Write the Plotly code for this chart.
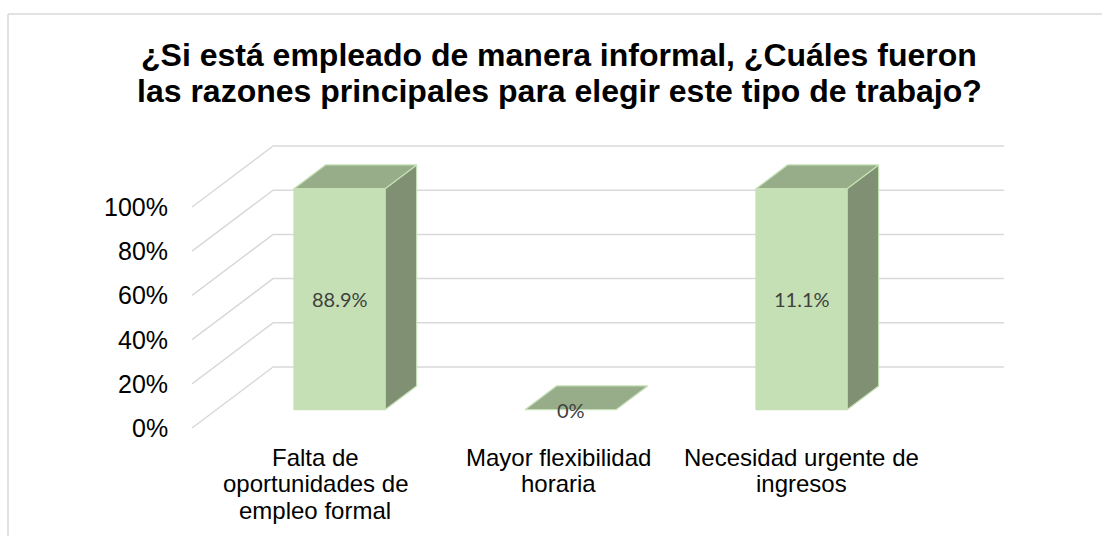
import plotly.graph_objects as go

# ---------------- data ----------------
categories = [
    ["Falta de", "oportunidades de", "empleo formal"],
    ["Mayor flexibilidad", "horaria"],
    ["Necesidad urgente de", "ingresos"],
]
bar_heights = [100, 0, 100]          # drawn heights (%) as they appear in the picture
data_labels = ["88.9%", "0%", "11.1%"]
tick_values = [0, 20, 40, 60, 80, 100]
tick_labels = ["0%", "20%", "40%", "60%", "80%", "100%"]
title_lines = [
    "¿Si está empleado de manera informal, ¿Cuáles fueron",
    "las razones principales para elegir este tipo de trabajo?",
]

# ---------------- layout / projection constants ----------------
W, H = 1102, 536
S = 231.0            # px per category unit
X_U0 = 315.2         # pixel x of category 0 on front plane
Y_V0 = 428.0         # pixel y of 0% on front plane
PX_PER_PCT = 2.21
DEPTH_DX, DEPTH_DY = 81.0, -61.0
DU = DEPTH_DX / S
DV = -DEPTH_DY / PX_PER_PCT
U_LEFT, U_RIGHT = -0.533, 2.631
D_FRONT, D_BACK = 0.30, 0.69
HALF_W = 0.197
LABEL_SPREAD = 1.053

FRONT_C = "#C5E0B4"
TOP_C = "#97AC89"
SIDE_C = "#7F9172"
EDGE_C = "#C5E0B4"
GRID_C = "#D9D9D9"


def proj(u, d, v):
    return u + d * DU, v + d * DV


def pix_to_v(py):
    return (Y_V0 - py) / PX_PER_PCT


fig = go.Figure()

# gridlines: diagonal (left floor edge) + back wall horizontals
for tv in tick_values:
    x0, y0 = proj(U_LEFT, 0, tv)
    x1, y1 = proj(U_LEFT, 1, tv)
    x2, y2 = proj(U_RIGHT, 1, tv)
    fig.add_trace(go.Scatter(x=[x0, x1, x2], y=[y0, y1, y2], mode="lines",
                             line=dict(color=GRID_C, width=1.5),
                             hoverinfo="skip", showlegend=False))


def face(pts, color):
    xs, ys = zip(*[proj(*p) for p in pts])
    xs = list(xs) + [xs[0]]
    ys = list(ys) + [ys[0]]
    fig.add_trace(go.Scatter(x=xs, y=ys, mode="lines", fill="toself",
                             fillcolor=color, line=dict(color=EDGE_C, width=1.2),
                             hoverinfo="skip", showlegend=False))


for i, h in enumerate(bar_heights):
    a, b = i - HALF_W, i + HALF_W
    if h > 0:
        face([(b, D_FRONT, 0), (b, D_BACK, 0), (b, D_BACK, h), (b, D_FRONT, h)], SIDE_C)
    face([(a, D_FRONT, h), (b, D_FRONT, h), (b, D_BACK, h), (a, D_BACK, h)], TOP_C)
    if h > 0:
        face([(a, D_FRONT, 0), (b, D_FRONT, 0), (b, D_FRONT, h), (a, D_FRONT, h)], FRONT_C)

annotations = []

# data labels
for i, (h, lab) in enumerate(zip(bar_heights, data_labels)):
    x, y = proj(i, D_FRONT, h / 2)
    annotations.append(dict(x=x, y=y, xref="x", yref="y", text=lab, showarrow=False,
                            xanchor="center", yanchor="middle",
                            font=dict(family="Lato", size=20, color="#404040")))

# value axis tick labels
for tv, tl in zip(tick_values, tick_labels):
    x, y = proj(U_LEFT, 0, tv)
    annotations.append(dict(x=x, y=y, xref="x", yref="y", text=tl, showarrow=False,
                            xanchor="right", yanchor="middle", xshift=-22,
                            font=dict(family="Liberation Sans, Arial", size=25, color="#000000")))

# category labels
for i, lines in enumerate(categories):
    for k, line in enumerate(lines):
        annotations.append(dict(x=i * LABEL_SPREAD, y=pix_to_v(457 + 26.5 * k), xref="x", yref="y",
                                text=line, showarrow=False, xanchor="center", yanchor="middle",
                                font=dict(family="Liberation Sans, Arial", size=24, color="#000000")))

# title
for k, line in enumerate(title_lines):
    annotations.append(dict(x=559 / W, y=1 - (55 + 36 * k) / H, xref="paper", yref="paper",
                            text="<b>" + line + "</b>", showarrow=False,
                            xanchor="center", yanchor="middle",
                            font=dict(family="Liberation Sans, Arial", size=32, color="#000000")))

shapes = [
    dict(type="line", xref="paper", yref="paper", x0=8 / W, x1=1.0, y0=1 - 14 / H, y1=1 - 14 / H,
         line=dict(color=GRID_C, width=1.5)),
    dict(type="line", xref="paper", yref="paper", x0=8 / W, x1=8 / W, y0=0, y1=1 - 14 / H,
         line=dict(color=GRID_C, width=1.5)),
]

fig.update_layout(
    width=W, height=H,
    margin=dict(l=0, r=0, t=0, b=0),
    paper_bgcolor="white", plot_bgcolor="white",
    showlegend=False,
    xaxis=dict(range=[(0 - X_U0) / S, (W - X_U0) / S], visible=False, fixedrange=True),
    yaxis=dict(range=[pix_to_v(H), pix_to_v(0)], visible=False, fixedrange=True),
    annotations=annotations,
    shapes=shapes,
)

fig.write_html("out.html", config={"displayModeBar": False},
               post_script="document.body.style.margin='0px';")
